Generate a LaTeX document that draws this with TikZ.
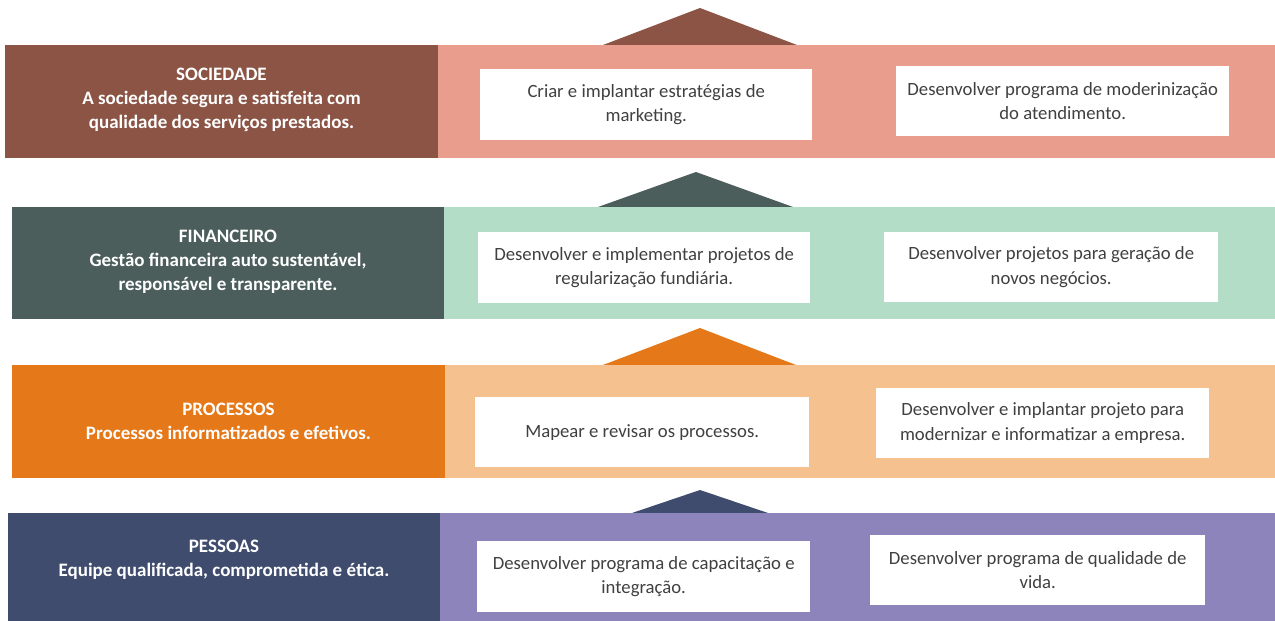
\documentclass[tikz,border=0pt]{standalone}
\usepackage{fontspec}
\setmainfont{Carlito}
\definecolor{socD}{HTML}{8B5445}
\definecolor{socL}{HTML}{E99D8C}
\definecolor{finD}{HTML}{4B5E5B}
\definecolor{finL}{HTML}{B4DDC8}
\definecolor{proD}{HTML}{E57818}
\definecolor{proL}{HTML}{F4C18F}
\definecolor{pesD}{HTML}{3F4C6E}
\definecolor{pesL}{HTML}{8C84BA}
\definecolor{txt}{HTML}{404040}
\begin{document}
\begin{tikzpicture}[x=1pt,y=-1pt,
  bandbox/.style={rectangle, inner sep=0pt, anchor=north west, draw=none},
  wbox/.style={rectangle, fill=white, inner sep=0pt, anchor=north west, align=center, text=txt, font=\fontsize{18.7}{24.5}\selectfont},
  ltext/.style={align=center, text=white, inner sep=0pt, font=\bfseries\fontsize{19}{24}\selectfont}]
\useasboundingbox (0,0) rectangle (1275,621);
\fill[white] (0,0) rectangle (1275,621);
% triangles
\fill[socD] (603,45) -- (700,8) -- (797,45) -- cycle;
\fill[finD] (598,207) -- (696,172) -- (793,207) -- cycle;
\fill[proD] (603,365) -- (700,328) -- (796,365) -- cycle;
\fill[pesD] (632,513) -- (700,490) -- (768,513) -- cycle;
% row 1
\node[bandbox, fill=socL, minimum width=837pt, minimum height=113pt] (socL) at (438,45) {};
\node[bandbox, fill=socD, minimum width=433pt, minimum height=113pt] (socD) at (5,45) {};
\node[ltext] (socT) at (221.5,100) {SOCIEDADE\\A sociedade segura e satisfeita com\\qualidade dos serviços prestados.};
\node[wbox, minimum width=332pt, minimum height=71pt] (s1) at (480,69) {Criar e implantar estratégias de\\marketing.};
\node[wbox, minimum width=333pt, minimum height=70pt] (s2) at (896,66) {Desenvolver programa de moderinização\\do atendimento.};
% row 2
\node[bandbox, fill=finL, minimum width=831pt, minimum height=112pt] (finL) at (444,207) {};
\node[bandbox, fill=finD, minimum width=432pt, minimum height=112pt] (finD) at (12,207) {};
\node[ltext] (finT) at (228,262) {FINANCEIRO\\Gestão financeira auto sustentável,\\responsável e transparente.};
\node[wbox, minimum width=332pt, minimum height=71pt] (f1) at (478,232) {Desenvolver e implementar projetos de\\regularização fundiária.};
\node[wbox, minimum width=334pt, minimum height=70pt] (f2) at (884,232) {Desenvolver projetos para geração de\\novos negócios.};
% row 3
\node[bandbox, fill=proL, minimum width=830pt, minimum height=113pt] (proL) at (445,365) {};
\node[bandbox, fill=proD, minimum width=433pt, minimum height=113pt] (proD) at (12,365) {};
\node[ltext] (proT) at (228.5,421) {PROCESSOS\\Processos informatizados e efetivos.};
\node[wbox, minimum width=334pt, minimum height=70pt] (p1) at (475,397) {Mapear e revisar os processos.};
\node[wbox, minimum width=333pt, minimum height=70pt] (p2) at (876,388) {Desenvolver e implantar projeto para\\modernizar e informatizar a empresa.};
% row 4
\node[bandbox, fill=pesL, minimum width=835pt, minimum height=108pt] (pesL) at (440,513) {};
\node[bandbox, fill=pesD, minimum width=432pt, minimum height=108pt] (pesD) at (8,513) {};
\node[ltext] (pesT) at (224,560) {PESSOAS\\Equipe qualificada, comprometida e ética.};
\node[wbox, minimum width=333pt, minimum height=71pt] (e1) at (477,541) {Desenvolver programa de capacitação e\\integração.};
\node[wbox, minimum width=335pt, minimum height=70pt] (e2) at (870,535) {Desenvolver programa de qualidade de\\vida.};
\end{tikzpicture}
\end{document}
